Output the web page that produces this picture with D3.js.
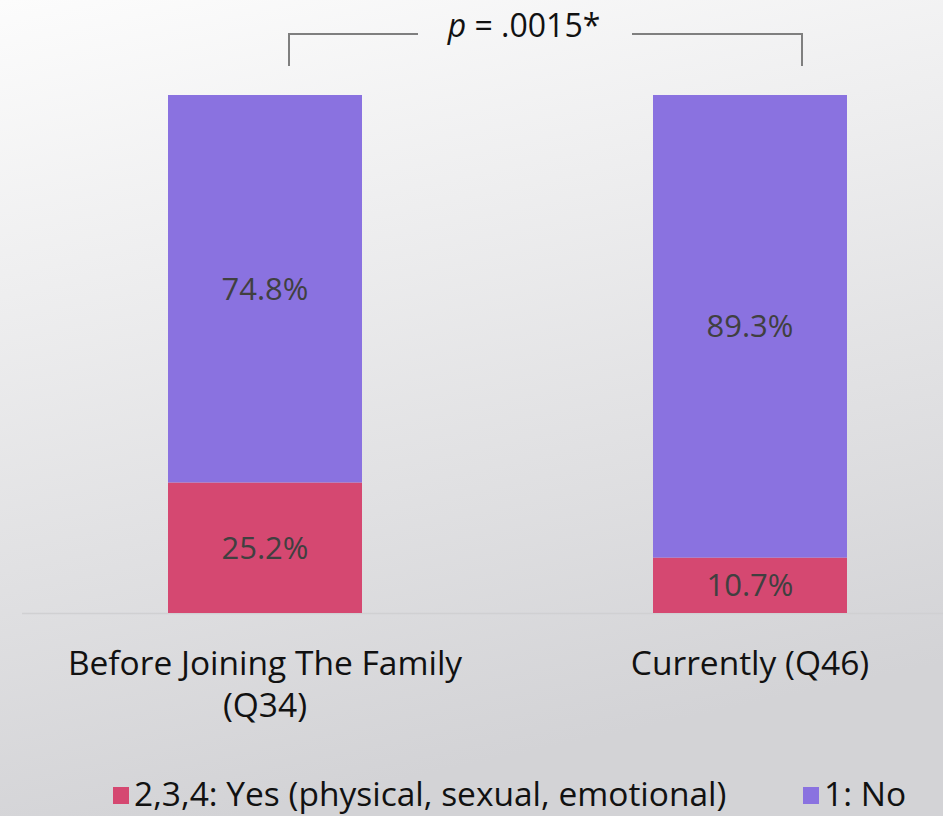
<!DOCTYPE html>
<html>
<head>
<meta charset="utf-8">
<script src="https://cdn.jsdelivr.net/npm/d3@7"></script>
<style>
  body { margin: 0; }
  svg { display: block; font-family: "Open Sans", Lato, sans-serif; }
</style>
</head>
<body>
<svg id="chart" width="943" height="816"></svg>
<script>
// data
const categories = ["Before Joining The Family|(Q34)", "Currently (Q46)"];
const yesValues = [25.2, 10.7];
const noValues = [74.8, 89.3];
const seriesNames = ["2,3,4: Yes (physical, sexual, emotional)", "1: No"];
const seriesColors = ["#d54871", "#8a72e0"];
const pLabel = ".0015*";

const W = 943, H = 816;
const svg = d3.select("#chart");

// background gradient
const defs = svg.append("defs");
const grad = defs.append("linearGradient")
  .attr("id", "bg")
  .attr("x1", 0).attr("y1", 0).attr("x2", 0.25).attr("y2", 1);
grad.append("stop").attr("offset", "0%").attr("stop-color", "#fcfcfc");
grad.append("stop").attr("offset", "100%").attr("stop-color", "#d3d3d6");
svg.append("rect").attr("width", W).attr("height", H).attr("fill", "url(#bg)");

const x = d3.scaleBand()
  .domain(categories)
  .range([22.5, 992.5])
  .paddingInner(0.6)
  .paddingOuter(0.3);

const y = d3.scaleLinear()
  .domain([0, 100])
  .range([613, 95]);

// axis baseline
svg.append("line")
  .attr("x1", 22).attr("x2", W)
  .attr("y1", y(0) + 0.5).attr("y2", y(0) + 0.5)
  .attr("stroke", "#d0d0d2").attr("stroke-width", 1.5);

// stacked data
const rows = categories.map((c, i) => ({ cat: c, yes: yesValues[i], no: noValues[i] }));
const stack = d3.stack().keys(["yes", "no"])(rows);

const layers = svg.selectAll("g.layer")
  .data(stack)
  .join("g")
  .attr("class", "layer")
  .attr("fill", (d, i) => seriesColors[i]);

layers.selectAll("rect")
  .data(d => d)
  .join("rect")
  .attr("x", d => x(d.data.cat))
  .attr("width", x.bandwidth())
  .attr("y", d => y(d[1]))
  .attr("height", d => y(d[0]) - y(d[1]));

// value labels
layers.selectAll("text")
  .data(d => d)
  .join("text")
  .attr("x", d => x(d.data.cat) + x.bandwidth() / 2)
  .attr("y", d => (y(d[0]) + y(d[1])) / 2)
  .attr("dy", "0.35em")
  .attr("text-anchor", "middle")
  .attr("fill", "#404040")
  .attr("font-size", 31)
  .text(d => (d[1] - d[0]).toFixed(1) + "%");

// category labels
const catLabels = svg.selectAll("text.cat")
  .data(categories)
  .join("text")
  .attr("class", "cat")
  .attr("text-anchor", "middle")
  .attr("font-size", 33.5)
  .attr("fill", "#111");
catLabels.each(function(d) {
  const parts = d.split("|");
  const t = d3.select(this);
  parts.forEach((p, i) => {
    t.append("tspan")
      .attr("x", x(d) + x.bandwidth() / 2)
      .attr("y", 675 + i * 42)
      .text(p);
  });
});

// significance bracket
const x1 = x(categories[0]) + x.bandwidth() / 2 + 24;
const x2 = x(categories[1]) + x.bandwidth() / 2 + 52;
const by = 34, bEnd = 66;
const bracket = svg.append("g").attr("stroke", "#7f7f7f").attr("stroke-width", 2).attr("fill", "none");
bracket.append("path").attr("d", `M${x1},${bEnd}V${by}H418`);
bracket.append("path").attr("d", `M632,${by}H${x2}V${bEnd}`);
const pt = svg.append("text")
  .attr("x", 524).attr("y", 37)
  .attr("text-anchor", "middle")
  .attr("font-size", 32)
  .attr("fill", "#111");
pt.append("tspan").attr("font-style", "italic").text("p");
pt.append("tspan").text(" = " + pLabel);

// legend
const legendX = [113, 803];
const legend = svg.selectAll("g.legend")
  .data(seriesNames)
  .join("g")
  .attr("class", "legend")
  .attr("transform", (d, i) => `translate(${legendX[i]},787)`);
legend.append("rect")
  .attr("width", 16).attr("height", 17)
  .attr("fill", (d, i) => seriesColors[i]);
legend.append("text")
  .attr("x", 21).attr("y", 19)
  .attr("font-size", 33.5)
  .attr("fill", "#111")
  .text(d => d);
</script>
</body>
</html>
